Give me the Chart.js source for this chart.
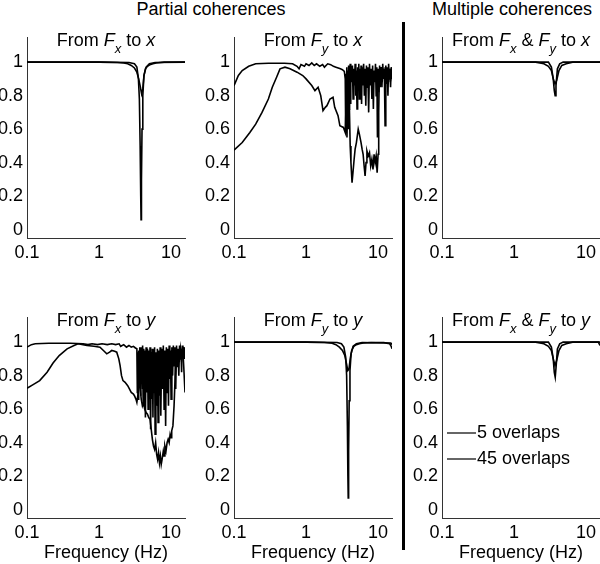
<!DOCTYPE html>
<html>
<head>
<meta charset="utf-8">
<script src="https://cdn.jsdelivr.net/npm/chart.js@4.4.1/dist/chart.umd.min.js"></script>
<style>
  html, body { margin: 0; padding: 0; background: #fff; overflow: hidden; }
  body { width: 600px; height: 564px; position: relative; font-family: "Liberation Sans", Arial, sans-serif; }
  canvas { position: absolute; }
  .header { position: absolute; top: 0; font-size: 18px; line-height: 18px; white-space: nowrap; transform: translateX(-50%); color: #000; }
  #divider { position: absolute; left: 402px; top: 22px; width: 3px; height: 528px; background: #000; }
</style>
</head>
<body>
<div class="header" style="left:211px">Partial coherences</div>
<div class="header" style="left:512px">Multiple coherences</div>
<div id="divider"></div>
<script>
const FONT = '"Liberation Sans", Arial, sans-serif';

// axes
const xTicks = [0.1, 1, 10];
const xTickLabels = ["0.1", "1", "10"];
const yTicks = [0, 0.2, 0.4, 0.6, 0.8, 1];
const yTickLabels = ["0", "0.2", "0.4", "0.6", "0.8", "1"];
const seriesLabels = ["5 overlaps", "45 overlaps"];

// From Fx to x
const fxToX_freqA = [0.1, 0.5, 1, 1.8, 2.2, 2.5, 2.8, 3.1, 3.35, 3.55, 3.75, 3.9, 4.05, 4.2, 4.4, 4.7, 5.1, 5.6, 6.2, 8, 12, 15.6];
const fxToX_cohA  = [1, 1, 1, 0.998, 0.995, 0.99, 0.98, 0.965, 0.94, 0.9, 0.85, 0.81, 0.84, 0.92, 0.96, 0.975, 0.985, 0.99, 0.995, 1, 1, 1];
const fxToX_freqB = [0.1, 1, 2.6, 3.1, 3.35, 3.52, 3.63, 3.72, 3.79, 3.83, 3.88, 3.95, 4.05, 4.2, 4.5, 5, 6, 15.6];
const fxToX_cohB  = [1, 1, 0.998, 0.99, 0.97, 0.9, 0.78, 0.5, 0.2, 0.06, 0.3, 0.6, 0.8, 0.92, 0.97, 0.99, 0.998, 1];

// From Fy to x
const fyToX_freqA = [0.1, 0.13, 0.166, 0.2, 0.245, 0.3, 0.34, 0.39, 0.435, 0.51,
  0.6, 0.75, 0.9, 1.0, 1.2, 1.33, 1.47, 1.6, 1.72, 1.85,
  1.95, 2.15, 2.37, 2.5, 2.78, 2.95, 3.3, 3.5, 3.6, 3.7,
  3.8, 3.9, 4.0, 4.1, 4.2, 4.35, 4.5, 4.65, 4.8, 5.0,
  5.3, 5.5, 5.8, 6.0, 6.2, 6.4, 6.6, 6.8, 7.0, 7.3,
  7.6, 7.9, 8.2, 8.5, 8.8, 9.1, 9.4, 9.7, 10.0, 10.2,
  10.4, 10.7, 11.0, 11.4, 11.8, 12.2, 12.6, 13.0, 13.5, 14.0,
  14.5, 15.0, 15.6];
const fyToX_cohA = [0.475, 0.52, 0.58, 0.63, 0.70, 0.78, 0.85, 0.91, 0.96, 0.97,
  0.96, 0.94, 0.92, 0.90, 0.86, 0.83, 0.85, 0.80, 0.71, 0.73,
  0.74, 0.78, 0.79, 0.73, 0.68, 0.62, 0.61, 0.58, 0.75, 0.55,
  0.82, 0.60, 0.72, 0.50, 0.40, 0.28, 0.35, 0.42, 0.48, 0.52,
  0.60, 0.57, 0.52, 0.48, 0.45, 0.38, 0.32, 0.40, 0.47, 0.44,
  0.46, 0.38, 0.42, 0.36, 0.45, 0.40, 0.44, 0.34, 0.45, 0.70,
  0.92, 0.85, 0.95, 0.88, 0.96, 0.90, 0.97, 0.87, 0.95, 0.88,
  0.96, 0.90, 0.94];
const fyToX_freqB = [0.1, 0.115, 0.13, 0.16, 0.2, 0.3, 0.5, 0.65, 0.75, 0.8,
  0.85, 0.95, 1.0, 1.1, 1.2, 1.3, 1.4, 1.55, 1.7, 1.8,
  2.0, 2.2, 2.4, 2.6, 2.8, 3.0, 3.2, 3.4,
  3.5, 3.55, 3.6, 3.65, 3.7, 3.75, 3.8, 3.85, 3.9, 3.95, 4.0, 4.05, 4.1, 4.15, 4.2,
  4.3, 4.4, 4.5, 4.6, 4.7, 4.8, 4.9, 5.0, 5.1, 5.2, 5.3, 5.4, 5.5, 5.6, 5.7, 5.8, 5.9, 6.0,
  6.15, 6.3, 6.45, 6.6, 6.75, 6.9, 7.05,
  7.2, 7.4, 7.6, 7.8, 8.0, 8.2, 8.4, 8.6, 8.8, 9.0, 9.2, 9.4, 9.6, 9.8, 10.0,
  10.25, 10.5, 10.75, 11.0,
  11.3, 11.6, 11.9, 12.2, 12.5, 12.8, 13.1, 13.4, 13.7, 14.0, 14.3, 14.6, 14.9, 15.2,
  15.6];
const fyToX_cohB = [0.86, 0.92, 0.95, 0.975, 0.99, 0.993, 0.993, 0.99, 0.975, 0.96,
  0.985, 0.975, 0.99, 0.98, 0.995, 0.98, 0.99, 0.975, 0.985, 0.97,
  0.99, 0.985, 0.975, 0.97, 0.965, 0.96, 0.955, 0.945,
  0.90, 0.60, 0.93, 0.70, 0.97, 0.65, 0.95, 0.82, 0.98, 0.72, 0.96, 0.85, 0.99, 0.75, 0.94,
  0.88, 0.98, 0.78, 0.96, 0.86, 0.99, 0.80, 0.95, 0.72, 0.97, 0.88, 0.99, 0.78, 0.96, 0.84, 0.98, 0.75, 0.97,
  0.86, 0.99, 0.80, 0.96, 0.74, 0.98, 0.85,
  0.97, 0.70, 0.99, 0.86, 0.96, 0.78, 0.98, 0.72, 0.95, 0.88, 0.99, 0.80, 0.97, 0.55, 0.96,
  0.82, 0.98, 0.88, 0.97,
  0.85, 0.99, 0.90, 0.96, 0.62, 0.98, 0.88, 0.97, 0.80, 0.99, 0.90, 0.96, 0.85, 0.97,
  0.90];

// From Fx & Fy to x
const fxyToX_freqA = [0.1, 1, 2.0, 2.6, 3.0, 3.3, 3.5, 3.7, 3.9, 4.2, 4.6, 5.3, 6.5, 15.6];
const fxyToX_cohA  = [1, 1, 1, 0.99, 0.975, 0.95, 0.9, 0.87, 0.89, 0.95, 0.98, 0.99, 1, 1];
const fxyToX_freqB = [0.1, 1, 3.0, 3.3, 3.5, 3.62, 3.72, 3.82, 4.0, 4.3, 4.8, 15.6];
const fxyToX_cohB  = [1, 1, 1, 0.97, 0.9, 0.83, 0.80, 0.86, 0.96, 0.99, 1, 1];

// From Fx to y
const fxToY_freqA = [0.1, 0.12, 0.15, 0.19, 0.23, 0.28, 0.36, 0.45, 0.51, 0.6,
  0.68, 0.85, 1.03, 1.15, 1.28, 1.4, 1.5, 1.65, 1.76, 1.88,
  1.96, 2.05, 2.15, 2.3, 2.5, 2.65, 2.8, 3.0, 3.1, 3.25,
  3.35, 3.5, 3.6, 3.7, 3.85, 4.0, 4.15, 4.3, 4.5, 4.7,
  4.9, 5.1, 5.3, 5.5, 5.7, 5.9, 6.1, 6.3, 6.5, 6.7,
  6.9, 7.1, 7.3, 7.5, 7.8, 8.0, 8.2, 8.5, 8.8, 9.1,
  9.4, 9.7, 10.0, 10.2, 10.6, 11.0, 11.4, 11.8, 12.2, 12.6,
  13.0, 13.5, 14.0, 14.5, 15.0, 15.6];
const fxToY_cohA = [0.725, 0.745, 0.77, 0.82, 0.875, 0.92, 0.96, 0.98, 0.99, 0.985,
  0.98, 0.975, 0.97, 0.95, 0.93, 0.94, 0.95, 0.945, 0.94, 0.90,
  0.86, 0.80, 0.77, 0.76, 0.74, 0.72, 0.70, 0.69, 0.68, 0.66,
  0.64, 0.70, 0.78, 0.74, 0.66, 0.62, 0.64, 0.60, 0.58, 0.57,
  0.55, 0.54, 0.48, 0.42, 0.38, 0.36, 0.40, 0.33, 0.30, 0.34,
  0.28, 0.32, 0.27, 0.30, 0.35, 0.32, 0.38, 0.35, 0.40, 0.42,
  0.40, 0.45, 0.43, 0.47, 0.50, 0.62, 0.80, 0.92, 0.85, 0.95,
  0.88, 0.96, 0.90, 0.97, 0.85, 0.70];
const fxToY_freqB = [0.1, 0.115, 0.13, 0.2, 0.4, 0.6, 0.7, 0.8, 0.95, 1.1,
  1.3, 1.5, 1.7, 1.9, 2.0, 2.2, 2.4, 2.6, 2.8, 3.0, 3.2, 3.35,
  3.4, 3.45,
  3.5, 3.55, 3.6, 3.65, 3.7, 3.75, 3.8, 3.85, 3.9, 3.95, 4.0, 4.05, 4.1, 4.15, 4.2,
  4.3, 4.4, 4.5, 4.6, 4.7, 4.8, 4.9, 5.0, 5.1, 5.2, 5.3, 5.4, 5.5, 5.6, 5.7, 5.8, 5.9, 6.0,
  6.15, 6.3, 6.45, 6.6, 6.75, 6.9, 7.05,
  7.2, 7.4, 7.6, 7.8, 8.0, 8.2, 8.4, 8.6, 8.8, 9.0, 9.2, 9.4, 9.6, 9.8, 10.0,
  10.25, 10.5, 10.75, 11.0,
  11.3, 11.6, 11.9, 12.2, 12.5, 12.8, 13.1, 13.4, 13.7, 14.0, 14.3, 14.6, 14.9, 15.2,
  15.6];
const fxToY_cohB = [0.97, 0.985, 0.99, 0.993, 0.993, 0.99, 0.985, 0.99, 0.985, 0.99,
  0.985, 0.99, 0.985, 0.99, 0.975, 0.985, 0.97, 0.98, 0.97, 0.975, 0.965, 0.96,
  0.70, 0.94,
  0.66, 0.95, 0.75, 0.97, 0.80, 0.96, 0.68, 0.97, 0.85, 0.95, 0.72, 0.98, 0.62, 0.96, 0.80,
  0.95, 0.55, 0.97, 0.70, 0.96, 0.60, 0.95, 0.75, 0.97, 0.48, 0.94, 0.66, 0.96, 0.55, 0.95, 0.70, 0.97, 0.45,
  0.94, 0.62, 0.96, 0.52, 0.95, 0.68, 0.97,
  0.56, 0.96, 0.72, 0.98, 0.60, 0.95, 0.50, 0.97, 0.70, 0.96, 0.62, 0.98, 0.78, 0.95, 0.66,
  0.97, 0.80, 0.98, 0.86,
  0.97, 0.72, 0.98, 0.88, 0.96, 0.80, 0.98, 0.90, 0.96, 0.82, 0.98, 0.92, 0.97, 0.90,
  0.97];

// From Fy to y
const fyToY_freqA = [0.1, 0.5, 1, 1.8, 2.3, 2.6, 2.9, 3.2, 3.45, 3.65, 3.8, 3.95, 4.1, 4.3, 4.6, 5.0, 5.5, 6.2, 8, 12, 14.5, 15.2, 15.6];
const fyToY_cohA  = [1, 1, 1, 0.998, 0.993, 0.985, 0.97, 0.95, 0.92, 0.87, 0.83, 0.84, 0.9, 0.95, 0.975, 0.985, 0.99, 0.995, 0.998, 0.997, 0.99, 0.975, 0.96];
const fyToY_freqB = [0.1, 1, 2.7, 3.1, 3.35, 3.55, 3.66, 3.75, 3.81, 3.85, 3.9, 3.97, 4.07, 4.22, 4.5, 5, 6, 15, 15.6];
const fyToY_cohB  = [1, 1, 0.998, 0.99, 0.97, 0.91, 0.8, 0.5, 0.2, 0.07, 0.35, 0.65, 0.83, 0.93, 0.975, 0.99, 0.998, 0.995, 0.985];

// From Fx & Fy to y
const fxyToY_freqA = [0.1, 1, 2.0, 2.6, 3.0, 3.3, 3.5, 3.7, 3.9, 4.2, 4.6, 5.3, 6.5, 14.8, 15.6];
const fxyToY_cohA  = [1, 1, 1, 0.99, 0.975, 0.95, 0.9, 0.86, 0.89, 0.95, 0.98, 0.99, 1, 1, 0.98];
const fxyToY_freqB = [0.1, 1, 3.0, 3.3, 3.5, 3.62, 3.73, 3.83, 4.0, 4.3, 4.8, 15.6];
const fxyToY_cohB  = [1, 1, 1, 0.97, 0.9, 0.82, 0.79, 0.85, 0.96, 0.99, 1, 1];

// titles: [text, style]  style: "" normal, "i" italic, "s" italic subscript
const titleFxToX  = [["From ", ""], ["F", "i"], ["x", "s"], [" to ", ""], ["x", "i"]];
const titleFyToX  = [["From ", ""], ["F", "i"], ["y", "s"], [" to ", ""], ["x", "i"]];
const titleFxyToX = [["From ", ""], ["F", "i"], ["x", "s"], [" & ", ""], ["F", "i"], ["y", "s"], [" to ", ""], ["x", "i"]];
const titleFxToY  = [["From ", ""], ["F", "i"], ["x", "s"], [" to ", ""], ["y", "i"]];
const titleFyToY  = [["From ", ""], ["F", "i"], ["y", "s"], [" to ", ""], ["y", "i"]];
const titleFxyToY = [["From ", ""], ["F", "i"], ["x", "s"], [" & ", ""], ["F", "i"], ["y", "s"], [" to ", ""], ["y", "i"]];

function segFont(style) {
    if (style === "s") return "italic 13px " + FONT;
    if (style === "i") return "italic 18px " + FONT;
    return "18px " + FONT;
}

// panel title with italic / subscript parts, sits just inside the top of the axes
const titlePlugin = {
    id: "panelTitle",
    afterDraw: function (chart, args, opts) {
        const segs = opts.segments;
        if (!segs) return;
        const ctx = chart.ctx;
        const area = chart.chartArea;
        ctx.save();
        let total = 0;
        const widths = segs.map(s => {
            ctx.font = segFont(s[1]);
            const w = ctx.measureText(s[0]).width;
            total += w;
            return w;
        });
        let x = (area.left + area.right) / 2 - total / 2;
        const base = area.top + 9;
        ctx.fillStyle = "#000";
        ctx.textBaseline = "alphabetic";
        ctx.textAlign = "left";
        segs.forEach((s, i) => {
            ctx.font = segFont(s[1]);
            ctx.fillText(s[0], x, s[1] === "s" ? base + 7 : base);
            x += widths[i];
        });
        ctx.restore();
    }
};

// small legend inside the last panel
const legendPlugin = {
    id: "overlapLegend",
    afterDraw: function (chart, args, opts) {
        if (!opts.show) return;
        const ctx = chart.ctx;
        const area = chart.chartArea;
        ctx.save();
        ctx.font = "18px " + FONT;
        ctx.textBaseline = "middle";
        ctx.fillStyle = "#000";
        chart.data.datasets.forEach((d, i) => {
            const y = area.top + 116 + i * 26;
            ctx.strokeStyle = "#000";
            ctx.lineWidth = 1.2;
            ctx.beginPath();
            ctx.moveTo(area.left + 5, y);
            ctx.lineTo(area.left + 34, y);
            ctx.stroke();
            ctx.fillText(d.label, area.left + 35, y);
        });
        ctx.restore();
    }
};

// yw = width of the y axis box (tick labels are clipped to it)
const panels = [
    { left: 0,   top: 20,  w: 190, h: 248, yw: 27, padR: 5, bottomRow: false, title: titleFxToX,
      series: [[fxToX_freqA, fxToX_cohA], [fxToX_freqB, fxToX_cohB]] },
    { left: 189, top: 20,  w: 208, h: 248, yw: 45, padR: 5, bottomRow: false, title: titleFyToX,
      series: [[fyToX_freqA, fyToX_cohA], [fyToX_freqB, fyToX_cohB]] },
    { left: 397, top: 20,  w: 203, h: 248, yw: 45, padR: 0, bottomRow: false, title: titleFxyToX,
      series: [[fxyToX_freqA, fxyToX_cohA], [fxyToX_freqB, fxyToX_cohB]] },
    { left: 0,   top: 300, w: 190, h: 264, yw: 27, padR: 5, bottomRow: true, title: titleFxToY,
      series: [[fxToY_freqA, fxToY_cohA], [fxToY_freqB, fxToY_cohB]] },
    { left: 189, top: 300, w: 208, h: 264, yw: 45, padR: 5, bottomRow: true, title: titleFyToY,
      series: [[fyToY_freqA, fyToY_cohA], [fyToY_freqB, fyToY_cohB]] },
    { left: 397, top: 300, w: 203, h: 264, yw: 45, padR: 0, bottomRow: true, title: titleFxyToY, legend: true,
      series: [[fxyToY_freqA, fxyToY_cohA], [fxyToY_freqB, fxyToY_cohB]] }
];

function makePanel(p) {
    const canvas = document.createElement("canvas");
    canvas.width = p.w;
    canvas.height = p.h;
    canvas.style.left = p.left + "px";
    canvas.style.top = p.top + "px";
    document.body.appendChild(canvas);

    const tickFont = { family: FONT, size: 18 };

    new Chart(canvas.getContext("2d"), {
        type: "line",
        data: {
            datasets: p.series.map((s, i) => ({
                label: seriesLabels[i],
                data: s[0].map((f, k) => ({ x: f, y: s[1][k] })),
                borderColor: "#000",
                borderWidth: 1.6,
                pointRadius: 0,
                tension: 0,
                fill: false
            }))
        },
        options: {
            responsive: false,
            animation: false,
            events: [],
            layout: { padding: { left: 0, right: p.padR, top: 17, bottom: 0 } },
            plugins: {
                legend: { display: false },
                tooltip: { enabled: false },
                panelTitle: { segments: p.title },
                overlapLegend: { show: !!p.legend }
            },
            scales: {
                x: {
                    type: "logarithmic",
                    min: 0.1,
                    max: 15.6,
                    grid: { display: false, drawTicks: false },
                    border: { display: true, color: "#333", width: 1 },
                    afterBuildTicks: s => { s.ticks = xTicks.map(v => ({ value: v })); },
                    afterFit: s => {
                        s.height = p.bottomRow ? 46 : 30;
                        s.paddingLeft = 0;
                        s.paddingRight = 0;
                    },
                    ticks: {
                        color: "#000",
                        font: tickFont,
                        padding: 4,
                        maxRotation: 0,
                        autoSkip: false,
                        callback: (v, i) => xTickLabels[i]
                    },
                    title: {
                        display: p.bottomRow,
                        text: "Frequency (Hz)",
                        color: "#000",
                        font: { family: FONT, size: 18 },
                        padding: { top: 0, bottom: 0 }
                    }
                },
                y: {
                    min: -0.05,
                    max: 1.15,
                    grid: { display: false, drawTicks: false },
                    border: { display: true, color: "#333", width: 1 },
                    afterBuildTicks: s => { s.ticks = yTicks.map(v => ({ value: v })); },
                    afterFit: s => {
                        s.width = p.yw;
                        s.paddingTop = 0;
                        s.paddingBottom = 0;
                    },
                    ticks: {
                        color: "#000",
                        font: tickFont,
                        padding: 4,
                        callback: (v, i) => yTickLabels[i]
                    }
                }
            }
        },
        plugins: [titlePlugin, legendPlugin]
    });
}

panels.forEach(makePanel);
</script>
</body>
</html>
